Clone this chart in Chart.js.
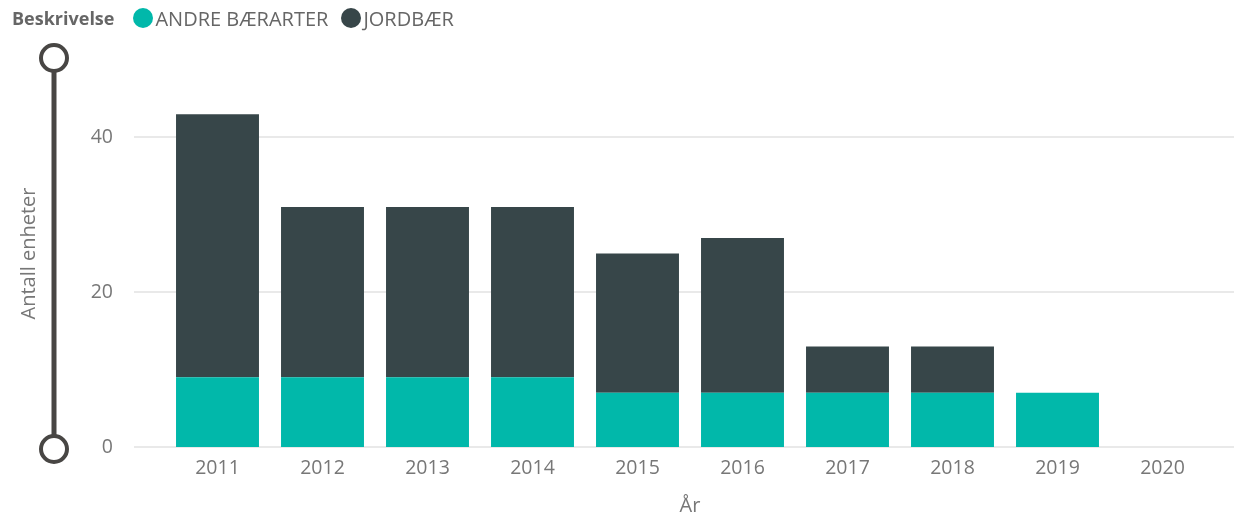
<!DOCTYPE html>
<html>
<head>
<meta charset="utf-8">
<script src="https://cdn.jsdelivr.net/npm/chart.js@4"></script>
<style>
  html, body { margin:0; padding:0; background:#fff; }
  #wrap { position:relative; width:1234px; height:518px; }
  canvas { position:absolute; left:0; top:0; }
  #legend { position:absolute; left:12px; top:3px; height:30px; display:flex; align-items:center;
            font-family:"Open Sans", sans-serif; font-size:20px; color:#666; white-space:nowrap; }
  #legend .ttl { font-weight:bold; color:#666; font-size:18px; margin-right:19px; }
  #legend .item { display:flex; align-items:center; margin-right:13px; }
  #legend .dot { width:20px; height:20px; border-radius:50%; margin-right:2px; }
</style>
</head>
<body>
<div id="wrap">
  <canvas id="c" width="1234" height="518"></canvas>
  <div id="legend"></div>
</div>
<script>
const legendTitle = "Beskrivelse";
const years = ["2011","2012","2013","2014","2015","2016","2017","2018","2019","2020"];
const seriesNames = ["ANDRE BÆRARTER", "JORDBÆR"];
const andreBaerarter = [9, 9, 9, 9, 7, 7, 7, 7, 7, 0];
const jordbaer = [34, 22, 22, 22, 18, 20, 6, 6, 0, 0];
const yTicks = [0, 20, 40];
const seriesColors = ["#01B8AA", "#374649"];
const yTitle = "Antall enheter";
const xTitle = "År";

// HTML legend
const lg = document.getElementById('legend');
const t = document.createElement('span'); t.className = 'ttl'; t.textContent = legendTitle; lg.appendChild(t);
seriesNames.forEach((n, i) => {
  const it = document.createElement('span'); it.className = 'item';
  const d = document.createElement('span'); d.className = 'dot'; d.style.background = seriesColors[i];
  const s = document.createElement('span'); s.textContent = n;
  it.appendChild(d); it.appendChild(s); lg.appendChild(it);
});

const FONT = '"Open Sans", sans-serif';

const gridPlugin = {
  id: 'extGrid',
  beforeDatasetsDraw(chart) {
    const ctx = chart.ctx, y = chart.scales.y;
    ctx.save();
    ctx.strokeStyle = '#e9e9e9';
    ctx.lineWidth = 2;
    y.ticks.forEach(tk => {
      const py = Math.round(y.getPixelForValue(tk.value));
      ctx.beginPath(); ctx.moveTo(134, py); ctx.lineTo(1234, py); ctx.stroke();
    });
    ctx.restore();
  }
};

const sliderPlugin = {
  id: 'slider',
  afterDraw(chart) {
    const ctx = chart.ctx, y = chart.scales.y;
    const x = 54;
    const yb = y.getPixelForValue(0) + 2;
    const yt = 58;
    ctx.save();
    ctx.strokeStyle = '#484644';
    ctx.lineWidth = 5;
    ctx.beginPath(); ctx.moveTo(x, yt); ctx.lineTo(x, yb); ctx.stroke();
    ctx.lineWidth = 4;
    ctx.fillStyle = '#fff';
    [yt, yb].forEach(cy => {
      ctx.beginPath(); ctx.arc(x, cy, 13, 0, Math.PI * 2); ctx.fill(); ctx.stroke();
    });
    ctx.restore();
  }
};

new Chart(document.getElementById('c'), {
  type: 'bar',
  data: {
    labels: years,
    datasets: [
      { label: seriesNames[0], data: andreBaerarter, backgroundColor: seriesColors[0] },
      { label: seriesNames[1], data: jordbaer, backgroundColor: seriesColors[1] }
    ]
  },
  options: {
    responsive: false,
    animation: false,
    layout: { padding: { top: 60, right: 19, left: 0, bottom: 0 } },
    datasets: { bar: { barPercentage: 0.79, categoryPercentage: 1 } },
    plugins: { legend: { display: false }, tooltip: { enabled: false } },
    scales: {
      x: {
        stacked: true,
        grid: { display: false, drawTicks: false },
        border: { display: false },
        ticks: { color: '#777', font: { family: FONT, size: 19.5 }, padding: 10, maxRotation: 0 },
        title: { display: true, text: xTitle, color: '#777', font: { family: FONT, size: 20 }, padding: { top: 0, bottom: 0 } },
        afterFit(s) { s.height = 71; s.paddingLeft = 0; s.paddingRight = 0; }
      },
      y: {
        stacked: true,
        min: 0, max: 50,
        grid: { display: false, drawTicks: false },
        border: { display: false },
        afterBuildTicks(s) { s.ticks = yTicks.map(v => ({ value: v })); },
        ticks: { color: '#777', font: { family: FONT, size: 19.5 }, padding: 52 },
        title: { display: true, text: yTitle, color: '#777', font: { family: FONT, size: 20 }, padding: { top: 17, bottom: 0 } },
        afterFit(s) { s.width = 165; s.paddingTop = 0; s.paddingBottom = 0; }
      }
    }
  },
  plugins: [gridPlugin, sliderPlugin]
});
</script>
</body>
</html>
